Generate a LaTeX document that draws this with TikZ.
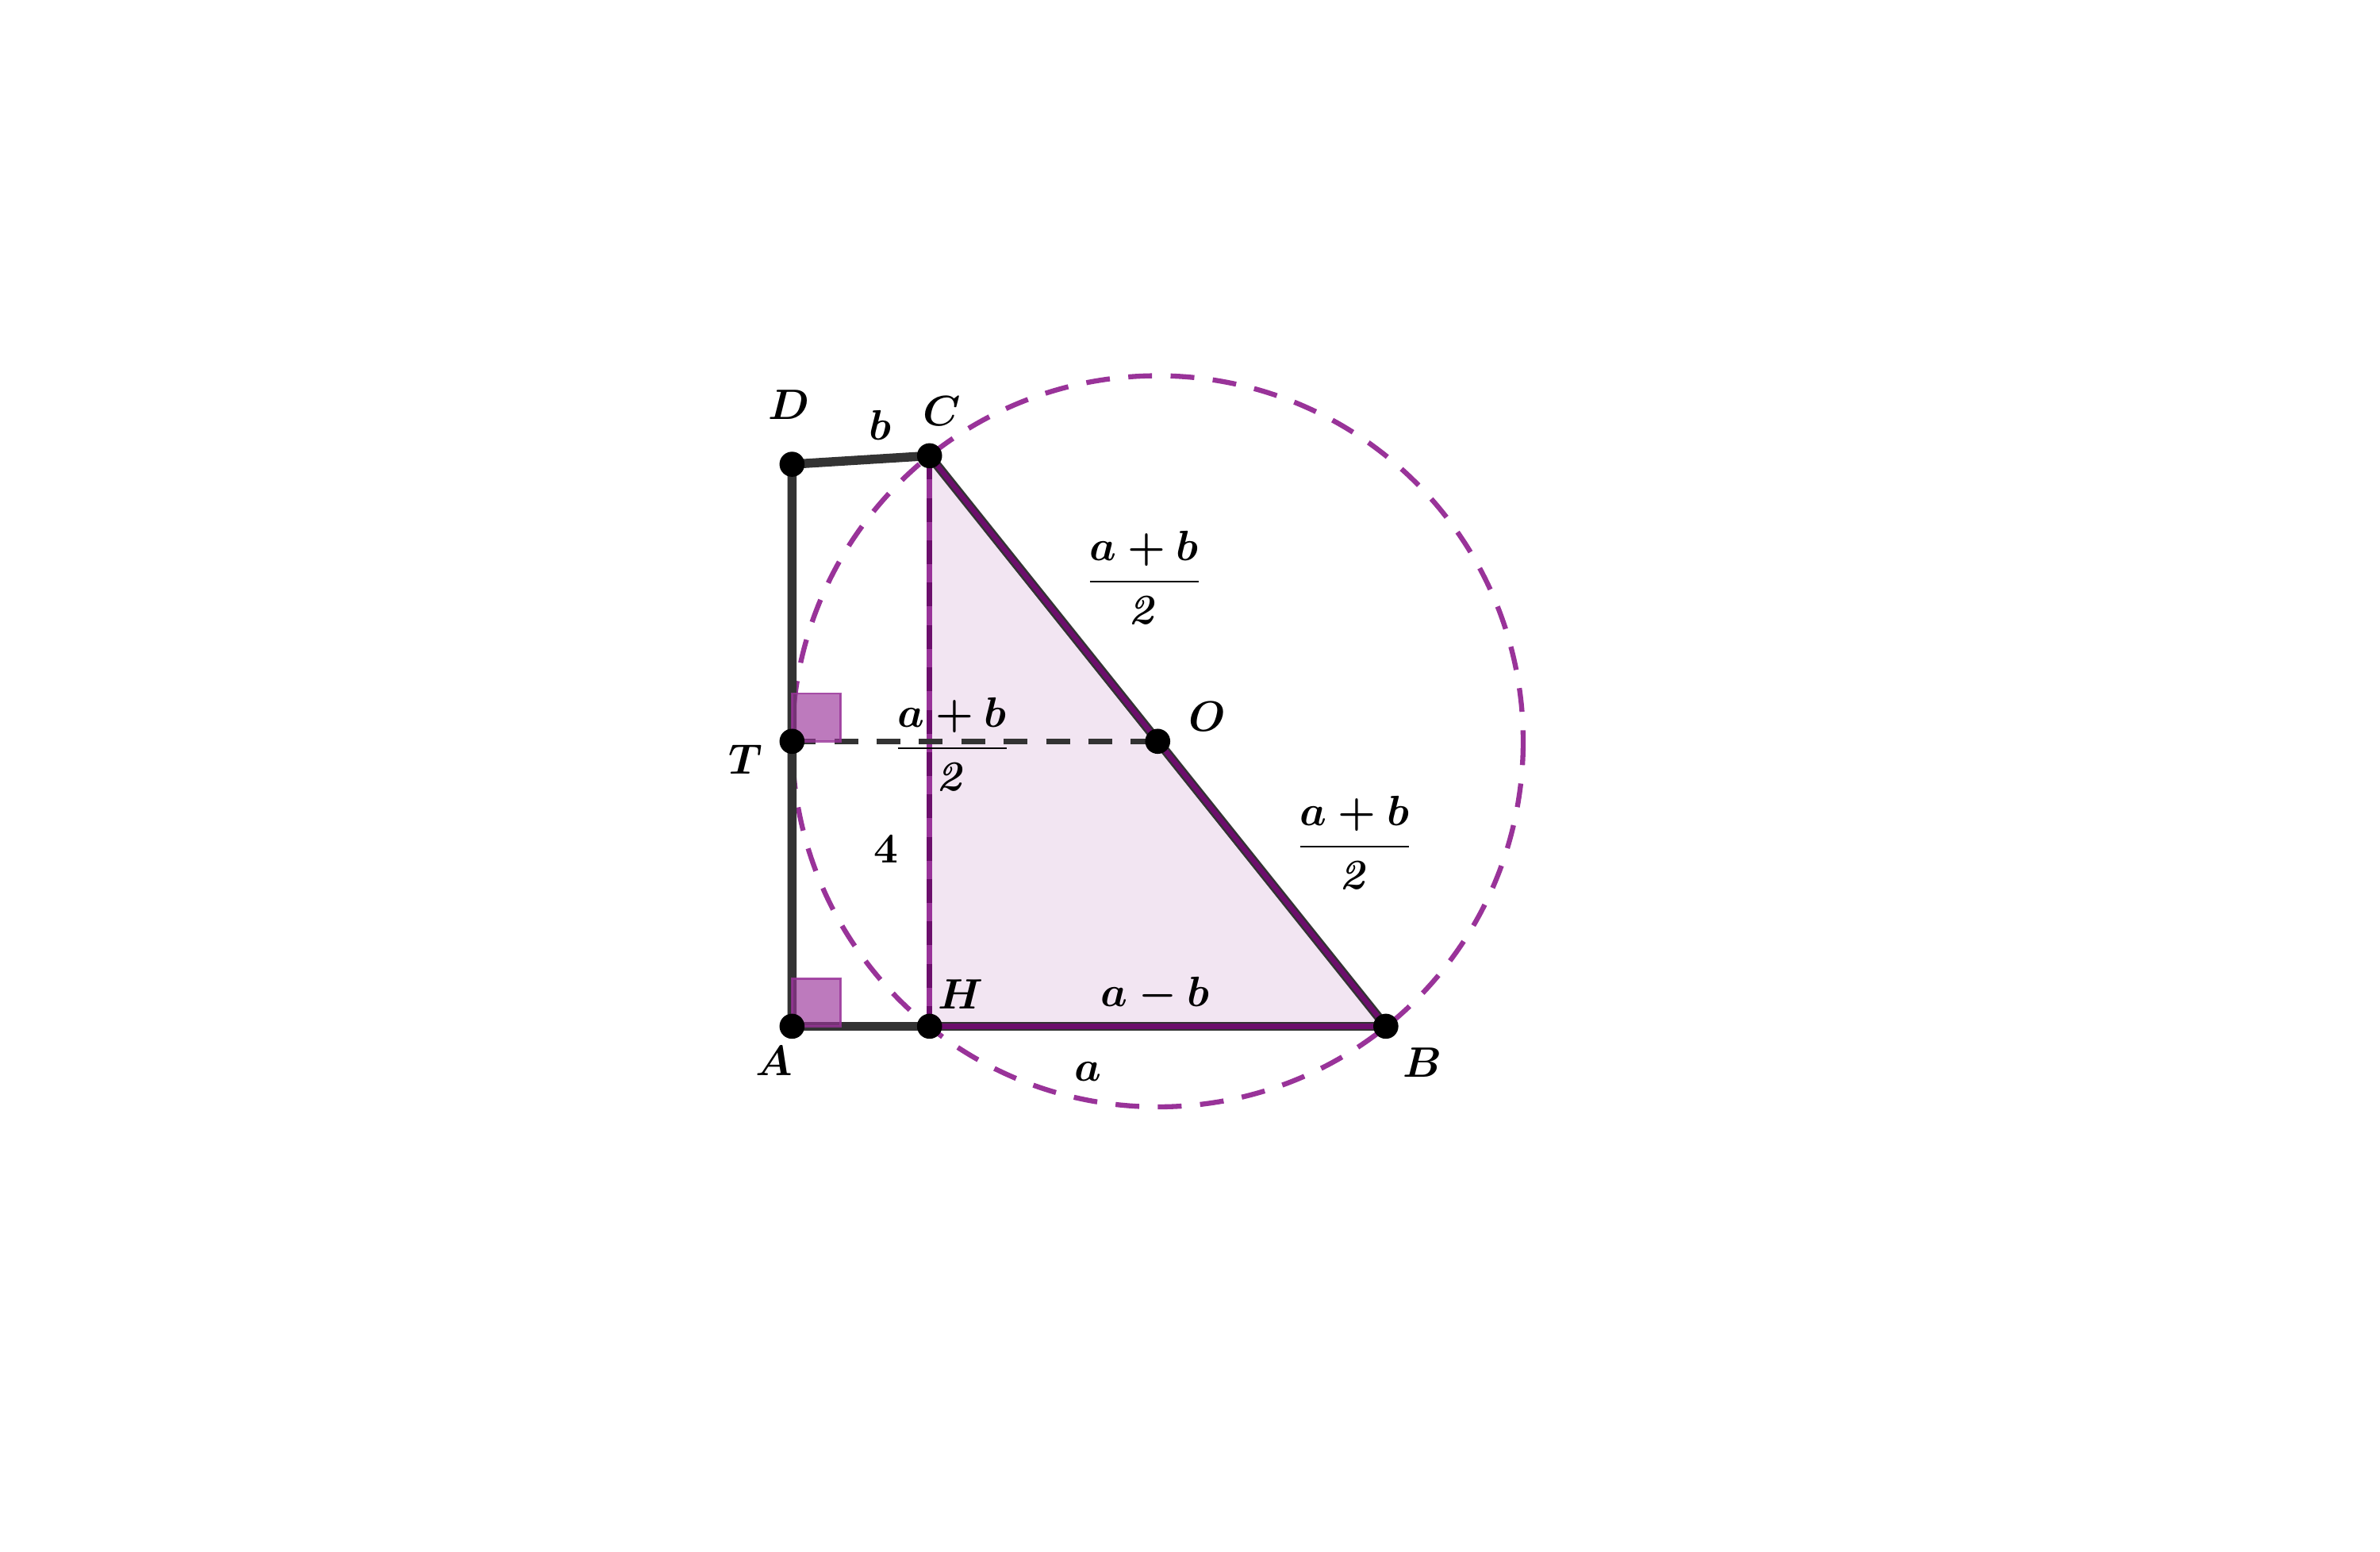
\documentclass[tikz,border=0pt]{standalone}
\usepackage{amsmath}
\definecolor{gpurple}{RGB}{153,51,153}
\definecolor{dpurple}{RGB}{108,14,108}
\definecolor{gline}{RGB}{51,51,51}
\begin{document}
\begin{tikzpicture}[x=0.35714pt,y=-0.35714pt,
  lbl/.style={inner sep=0pt, font=\boldmath},
  dot/.style={circle, fill=black, inner sep=0pt, minimum size=5.9pt},
  seg/.style={draw=gline, line width=2.14pt},
  edge/.style={draw=dpurple, line width=1.18pt},
  dashpat/.style={dash pattern=on 5.6pt off 4.36pt},
  rangle/.style={fill=gpurple, fill opacity=0.65, draw=gpurple, draw opacity=0.8, line width=0.54pt}]
\useasboundingbox (0,0) rectangle (1568,1022.3);
% points
\coordinate (A) at (521.8,676);
\coordinate (B) at (913,676);
\coordinate (C) at (612.4,300.2);
\coordinate (D) at (521.8,305.8);
\coordinate (H) at (612.4,676);
\coordinate (T) at (521.8,488.3);
\coordinate (O) at (762.7,488.3);
% triangle fill
\fill[gpurple, opacity=0.13] (C) -- (H) -- (B) -- cycle;
% circle
\draw[gpurple, line width=1.18pt, dashpat] (O) circle[radius=240.8];
% segments
\draw[seg] (A) -- (D) -- (C);
\draw[seg] (A) -- (H);
\draw[seg] (C) -- (B);
\draw[seg] (H) -- (B);
\draw[edge] (C) -- (B);
\draw[edge] (H) -- (B);
\draw[gpurple, line width=1.25pt] (C) -- (H);
\draw[dpurple, line width=1.25pt, dashpat] (C) -- (H);
\draw[gline, line width=1.36pt, dashpat] (T) -- (O);
% right angles
\draw[rangle] (T) rectangle ++(32,-31.5);
\draw[rangle] (A) rectangle ++(32,-31.5);
% dots
\node[dot] (nA) at (A) {};
\node[dot] (nB) at (B) {};
\node[dot] (nC) at (C) {};
\node[dot] (nD) at (D) {};
\node[dot] (nH) at (H) {};
\node[dot] (nT) at (T) {};
\node[dot] (nO) at (O) {};
% labels
\node[lbl] (lD) at (520,266.6) {$D$};
\node[lbl] (lb) at (580,280) {$b$};
\node[lbl] (lC) at (620.3,271) {$C$};
\node[lbl] (lO) at (795.5,472) {$O$};
\node[lbl] (lT) at (491.4,500) {$T$};
\node[lbl] (l4) at (583.7,559.3) {$4$};
\node[lbl] (lH) at (633,655) {$H$};
\node[lbl] (lamb) at (761,655) {$a-b$};
\node[lbl] (lA) at (510,699) {$A$};
\node[lbl] (la) at (717,706) {$a$};
\node[lbl] (lB) at (937,700) {$B$};
\node[lbl, anchor=base] (f1) at (753.8,390) {$\dfrac{a+b}{\mathit{2}}$};
\node[lbl, anchor=base] (f2) at (627.3,499.7) {$\dfrac{a+b}{\mathit{2}}$};
\node[lbl, anchor=base] (f3) at (892.4,564.5) {$\dfrac{a+b}{\mathit{2}}$};
\end{tikzpicture}
\end{document}
